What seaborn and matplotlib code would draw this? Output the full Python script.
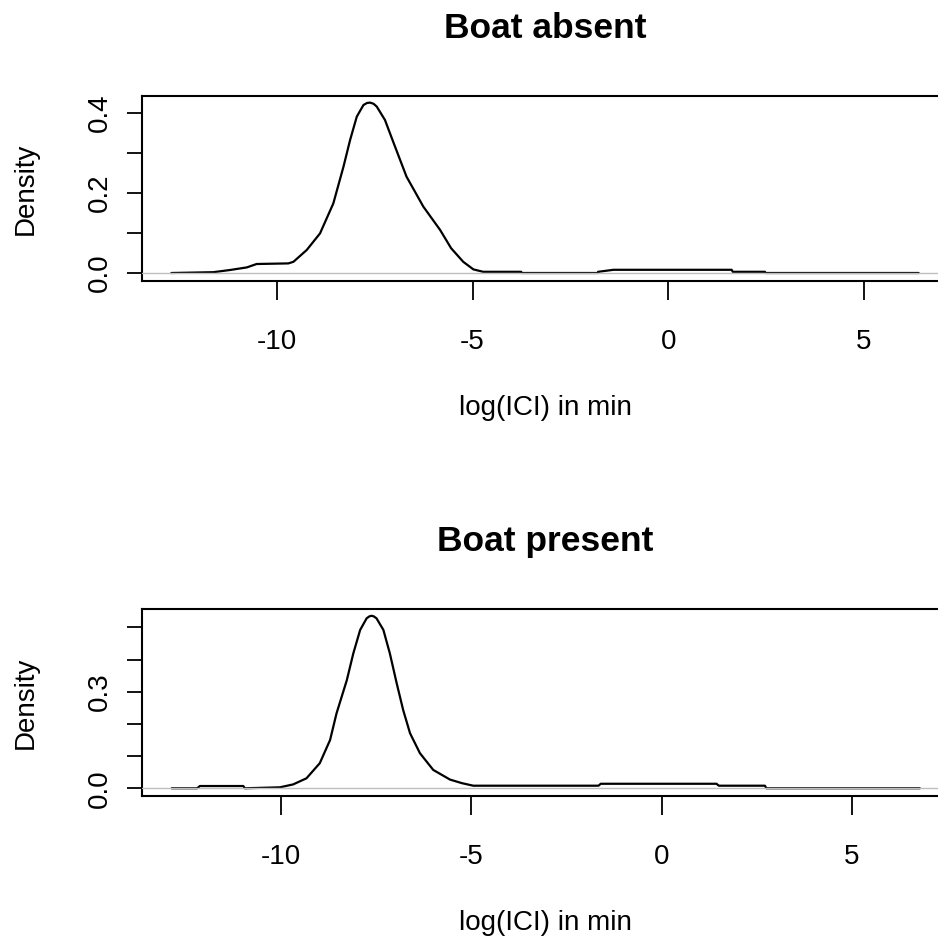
import matplotlib
matplotlib.use("Agg")
import matplotlib.pyplot as plt
import seaborn as sns
import pandas as pd

# ---- data ----
absent_x = [-12.7, -11.63, -11.2, -10.77, -10.52, -9.71, -9.58, -9.24, -8.90, -8.56,
            -8.30, -8.13, -7.96, -7.79, -7.70, -7.62, -7.53, -7.45, -7.24, -7.03,
            -6.69, -6.26, -5.83, -5.55, -5.24, -4.98, -4.73, -3.76, -3.74, -1.80,
            -1.79, -1.40, 1.62, 1.65, 2.47, 2.49, 6.4]
absent_y = [0.0, 0.002, 0.0075, 0.014, 0.0225, 0.024, 0.028, 0.0575, 0.099, 0.174,
            0.266, 0.333, 0.391, 0.42, 0.425, 0.426, 0.423, 0.416, 0.3825, 0.328,
            0.241, 0.166, 0.1075, 0.062, 0.028, 0.009, 0.003, 0.003, 0.0, 0.0,
            0.003, 0.008, 0.008, 0.003, 0.003, 0.0, 0.0]

present_x = [-12.87, -12.2, -12.13, -10.99, -10.95, -10.03, -9.68, -9.33, -8.98, -8.71,
             -8.54, -8.27, -8.10, -7.92, -7.75, -7.68, -7.62, -7.56, -7.49, -7.31,
             -7.14, -6.96, -6.79, -6.61, -6.35, -6.00, -5.56, -5.25, -4.95, -1.66,
             -1.60, 1.44, 1.50, 2.71, 2.75, 6.78]
present_y = [0.0, 0.0, 0.007, 0.007, 0.0, 0.003, 0.012, 0.031, 0.078, 0.15,
             0.233, 0.336, 0.419, 0.492, 0.528, 0.534, 0.536, 0.534, 0.528, 0.492,
             0.419, 0.326, 0.243, 0.171, 0.109, 0.057, 0.027, 0.016, 0.008, 0.008,
             0.014, 0.014, 0.008, 0.008, 0.0, 0.0]

titles = ["Boat absent", "Boat present"]
x_ticks = [-10, -5, 0, 5]
x_ticklabels = ["-10", "-5", "0", "5"]
absent_yticks = [0.0, 0.1, 0.2, 0.3, 0.4]
absent_yticklabels = ["0.0", "", "0.2", "", "0.4"]
present_yticks = [0.0, 0.1, 0.2, 0.3, 0.4, 0.5]
present_yticklabels = ["0.0", "", "", "0.3", "", ""]
xlabel = "log(ICI) in min"
ylabel = "Density"

sns.set_style("white")
plt.rcParams['font.family'] = ['Liberation Sans', 'DejaVu Sans']
plt.rcParams['text.color'] = 'black'
plt.rcParams['axes.labelcolor'] = 'black'
plt.rcParams['xtick.color'] = 'black'
plt.rcParams['ytick.color'] = 'black'

W, H = 938, 941
fig = plt.figure(figsize=(W / 100, H / 100), dpi=100)

panels = [
    dict(x=absent_x, y=absent_y, title=titles[0], yt=absent_yticks, ytl=absent_yticklabels,
         top=96, bottom=281, xlim=(-13.45, 7.15), ylim=(-0.02, 0.4425)),
    dict(x=present_x, y=present_y, title=titles[1], yt=present_yticks, ytl=present_yticklabels,
         top=609, bottom=796, xlim=(-13.65, 7.52), ylim=(-0.024, 0.557)),
]

left_px, right_px = 142, 948
for p in panels:
    ax = fig.add_axes([left_px / W, 1 - p["bottom"] / H,
                       (right_px - left_px) / W, (p["bottom"] - p["top"]) / H])
    df = pd.DataFrame({"x": p["x"], "y": p["y"]})
    sns.lineplot(data=df, x="x", y="y", ax=ax, color="black", linewidth=1.6,
                 estimator=None, sort=False)
    ax.axhline(0, color="#BEBEBE", linewidth=1.0, zorder=5)
    ax.set_xlim(*p["xlim"])
    ax.set_ylim(*p["ylim"])
    ax.set_xticks(x_ticks)
    ax.set_xticklabels(x_ticklabels)
    ax.set_yticks(p["yt"])
    ax.set_yticklabels(p["ytl"], rotation=90, va="center")
    for s in ax.spines.values():
        s.set_visible(True)
        s.set_color("black")
        s.set_linewidth(1.5)
    ax.tick_params(axis="x", direction="out", length=13.5, width=1.3, pad=21,
                   labelsize=20, colors="black", bottom=True)
    ax.tick_params(axis="y", direction="out", length=11, width=1.3, pad=10,
                   labelsize=20, colors="black", left=True)
    ax.set_title(p["title"], fontsize=25.5, fontweight="bold", pad=42, color="black")
    ax.set_xlabel(xlabel, fontsize=20, color="black")
    ax.set_ylabel(ylabel, fontsize=20, color="black")
    ax.xaxis.set_label_coords(545 / W, 1 - (p["bottom"] + 114) / H, transform=fig.transFigure)
    ax.yaxis.set_label_coords(39 / W, 1 - ((p["top"] + p["bottom"]) / 2) / H,
                              transform=fig.transFigure)
    ax.grid(False)

fig.savefig("out.png", dpi=100)
